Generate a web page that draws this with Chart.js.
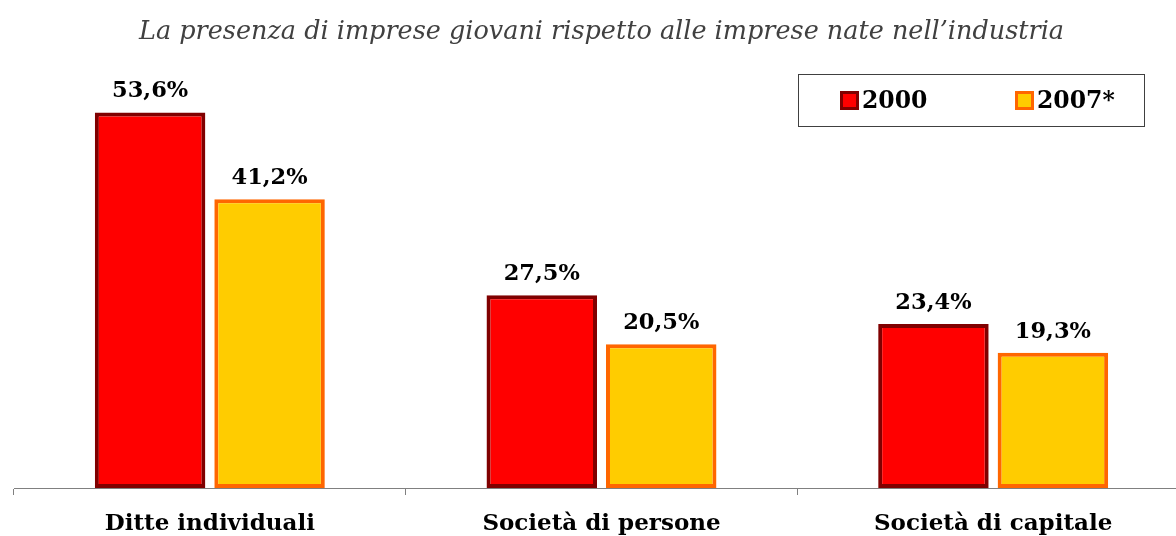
<!DOCTYPE html>
<html>
<head>
<meta charset="utf-8">
<script src="https://cdn.jsdelivr.net/npm/chart.js@4.4.1/dist/chart.umd.min.js"></script>
<style>
  html, body { margin: 0; padding: 0; background: #fff; overflow: hidden; }
  #wrap { width: 1192px; height: 536px; }
</style>
</head>
<body>
<div id="wrap"><canvas id="chart" width="1192" height="536"></canvas></div>
<script>
const categories = ['Ditte individuali', 'Società di persone', 'Società di capitale'];
const seriesLabels = ['2000', '2007*'];
const values2000 = [53.6, 27.5, 23.4];
const values2007 = [41.2, 20.5, 19.3];

const titleText = 'La presenza di imprese giovani rispetto alle imprese nate nell\u2019industria';
const SERIF = '"DejaVu Serif", "Liberation Serif", serif';

function fmt(v) {
  return v.toFixed(1).replace('.', ',') + '%';
}

// value labels above each bar
const valueLabels = {
  id: 'valueLabels',
  afterDatasetsDraw(chart) {
    const ctx = chart.ctx;
    ctx.save();
    ctx.font = `bold 22.5px ${SERIF}`;
    ctx.fillStyle = '#000';
    ctx.textAlign = 'center';
    ctx.textBaseline = 'alphabetic';
    chart.data.datasets.forEach((ds, di) => {
      chart.getDatasetMeta(di).data.forEach((bar, i) => {
        ctx.fillText(fmt(ds.data[i]), bar.x, bar.y - 15);
      });
    });
    ctx.restore();
  }
};

// boxed legend in the upper right corner
const boxLegend = {
  id: 'boxLegend',
  afterDraw(chart) {
    const ctx = chart.ctx;
    const area = chart.chartArea;
    const left = area.right - 391, top = 74, w = 346, h = 52;
    ctx.save();
    ctx.strokeStyle = '#404040';
    ctx.lineWidth = 1;
    ctx.strokeRect(left + 0.5, top + 0.5, w, h);
    ctx.font = `bold 23.5px ${SERIF}`;
    ctx.textBaseline = 'alphabetic';
    const offsets = [42, 217];
    chart.data.datasets.forEach((ds, di) => {
      const x = left + offsets[di];
      const y = top + 17;
      ctx.fillStyle = ds.borderColor;
      ctx.fillRect(x, y, 19, 19);
      ctx.fillStyle = ds.backgroundColor;
      ctx.fillRect(x + 3, y + 3, 13, 13);
      ctx.fillStyle = '#000';
      ctx.fillText(ds.label, x + 22, top + 34);
    });
    ctx.restore();
  }
};

new Chart(document.getElementById('chart'), {
  type: 'bar',
  data: {
    labels: categories,
    datasets: [
      {
        label: seriesLabels[0],
        data: values2000,
        backgroundColor: '#FF0000',
        borderColor: '#800000',
        borderWidth: 4,
        borderSkipped: false,
        categoryPercentage: 0.61,
        barPercentage: 0.925
      },
      {
        label: seriesLabels[1],
        data: values2007,
        backgroundColor: '#FFCC00',
        borderColor: '#FF6600',
        borderWidth: 4,
        borderSkipped: false,
        categoryPercentage: 0.61,
        barPercentage: 0.925
      }
    ]
  },
  options: {
    responsive: false,
    animation: false,
    layout: { padding: { left: 14, right: 3, top: 0, bottom: 0 } },
    plugins: {
      legend: { display: false },
      tooltip: { enabled: false },
      title: {
        display: true,
        text: titleText,
        color: '#404040',
        font: { family: SERIF, size: 25.5, style: 'italic', weight: 'normal', lineHeight: 1.2 },
        padding: { top: 17, bottom: 20 }
      }
    },
    scales: {
      y: {
        display: false,
        min: 0,
        max: 60
      },
      x: {
        grid: {
          offset: true,
          drawOnChartArea: false,
          drawTicks: true,
          tickLength: 7,
          color: '#808080'
        },
        border: { color: '#808080', width: 1 },
        ticks: {
          color: '#000',
          font: { family: SERIF, size: 23, weight: 'bold' },
          padding: 15,
          maxRotation: 0
        },
        afterFit(scale) { scale.height = 48; }
      }
    }
  },
  plugins: [valueLabels, boxLegend]
});
</script>
</body>
</html>
